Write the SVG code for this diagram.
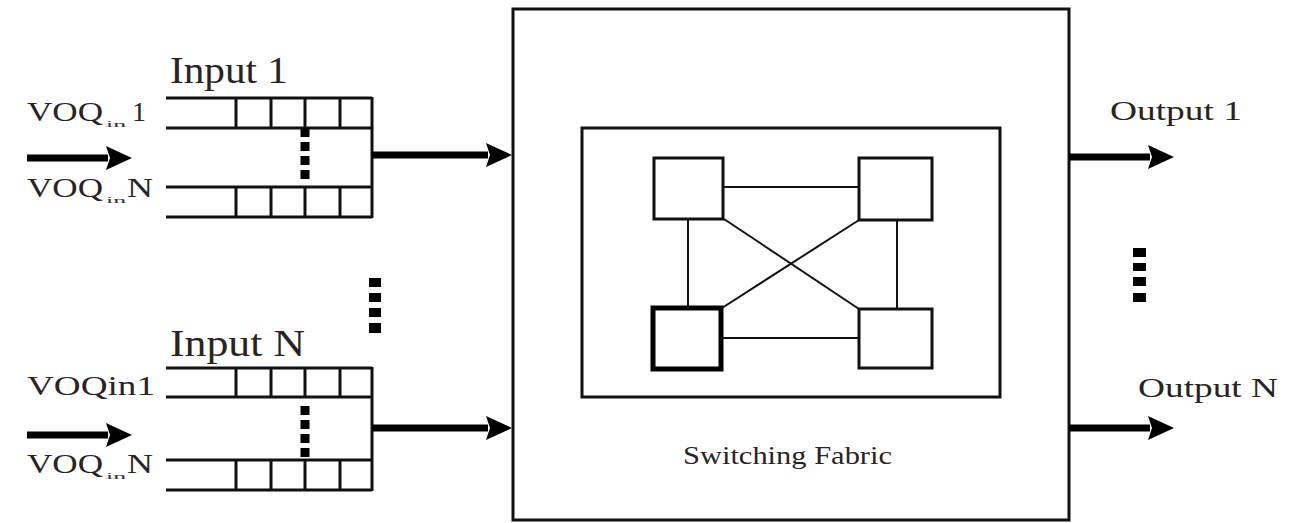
<svg xmlns="http://www.w3.org/2000/svg" width="1292" height="523" viewBox="0 0 1292 523">
<defs>
<style>
.ln{stroke:#111;stroke-width:3;fill:none}
.thin{stroke:#111;stroke-width:2;fill:none}
.shaft{stroke:#000;stroke-width:7;fill:none}
.dot{stroke:#000;stroke-width:9;stroke-dasharray:9 5;fill:none}
.dk{fill:#000}
.t{font-family:"Liberation Serif","Times New Roman",serif;fill:#2a2326}
.sub{font-family:"Liberation Serif","Times New Roman",serif;fill:#333;font-size:8px}
</style>
<marker id="ah" markerUnits="userSpaceOnUse" markerWidth="28" markerHeight="26" refX="2" refY="12" orient="auto">
<path d="M0,0 L26,12 L0,24 L4,12 z" fill="#000"/>
</marker>
</defs>
<rect width="1292" height="523" fill="#fff"/>

<g id="input1">
<text class="t" x="170" y="83" font-size="38" textLength="118" lengthAdjust="spacingAndGlyphs">Input 1</text>
<text class="t" x="27" y="121" font-size="28" textLength="76" lengthAdjust="spacingAndGlyphs">VOQ</text>
<text class="sub" x="106" y="127" textLength="20" lengthAdjust="spacingAndGlyphs">in</text>
<text class="t" x="132" y="121" font-size="28">1</text>
<text class="t" x="27" y="197" font-size="28" textLength="76" lengthAdjust="spacingAndGlyphs">VOQ</text>
<text class="sub" x="106" y="203" textLength="20" lengthAdjust="spacingAndGlyphs">in</text>
<text class="t" x="127" y="197" font-size="28" textLength="26" lengthAdjust="spacingAndGlyphs">N</text>
<path class="ln" d="M166,98 H372 M166,128 H372 M236,98 V128 M271,98 V128 M305,98 V128 M340,98 V128"/>
<path class="ln" d="M166,187 H372 M166,217 H372 M236,187 V217 M271,187 V217 M305,187 V217 M340,187 V217"/>
<path class="ln" d="M372,97 V218"/>
<line class="dot" x1="305" y1="128" x2="305" y2="184"/>
</g>

<g id="inputN">
<text class="t" x="170" y="356" font-size="38" textLength="135" lengthAdjust="spacingAndGlyphs">Input N</text>
<text class="t" x="27" y="395" font-size="28" textLength="128" lengthAdjust="spacingAndGlyphs">VOQin1</text>
<text class="t" x="27" y="473" font-size="28" textLength="76" lengthAdjust="spacingAndGlyphs">VOQ</text>
<text class="sub" x="106" y="479" textLength="20" lengthAdjust="spacingAndGlyphs">in</text>
<text class="t" x="127" y="473" font-size="28" textLength="26" lengthAdjust="spacingAndGlyphs">N</text>
<path class="ln" d="M166,368 H372 M166,397 H372 M236,368 V397 M271,368 V397 M305,368 V397 M340,368 V397"/>
<path class="ln" d="M166,460 H372 M166,490 H372 M236,460 V490 M271,460 V490 M305,460 V490 M340,460 V490"/>
<path class="ln" d="M372,367 V491"/>
<line class="dot" x1="305" y1="406" x2="305" y2="458"/>
</g>

<g id="input-dots">
<rect class="dk" x="369" y="278" width="12" height="9"/>
<rect class="dk" x="369" y="293" width="12" height="9"/>
<rect class="dk" x="369" y="308" width="12" height="9"/>
<rect class="dk" x="369" y="323" width="12" height="10"/>
</g>

<g id="switch">
<rect class="ln" x="513" y="9" width="556" height="511"/>
<rect class="ln" x="582" y="128" width="418" height="269"/>
<text class="t" x="683" y="464" font-size="25" textLength="209" lengthAdjust="spacingAndGlyphs">Switching Fabric</text>
</g>

<g id="sw-tl"><rect class="ln" x="654" y="158" width="69" height="61"/></g>
<g id="sw-tr"><rect class="ln" x="859" y="158" width="73" height="62"/></g>
<g id="sw-bl"><rect x="653" y="308" width="68" height="61" fill="none" stroke="#000" stroke-width="5"/></g>
<g id="sw-br"><rect class="ln" x="859" y="309" width="73" height="59"/></g>

<g id="outputs">
<text class="t" x="1110" y="120" font-size="28" textLength="132" lengthAdjust="spacingAndGlyphs">Output 1</text>
<text class="t" x="1138" y="397" font-size="28" textLength="140" lengthAdjust="spacingAndGlyphs">Output N</text>
<rect class="dk" x="1133" y="248" width="13" height="9"/>
<rect class="dk" x="1133" y="263" width="13" height="8"/>
<rect class="dk" x="1133" y="277" width="13" height="9"/>
<rect class="dk" x="1133" y="293" width="13" height="9"/>
</g>

<g id="connectors">
<line class="thin" x1="723" y1="187" x2="859" y2="187"/>
<line class="thin" x1="721" y1="338" x2="859" y2="338"/>
<line class="thin" x1="688" y1="219" x2="688" y2="308"/>
<line class="thin" x1="897" y1="220" x2="897" y2="309"/>
<line class="thin" x1="724" y1="219" x2="859" y2="309"/>
<line class="thin" x1="859" y1="220" x2="722" y2="308"/>
<line class="shaft" x1="27" y1="158" x2="108" y2="158" stroke-width="6" marker-end="url(#ah)"/>
<line class="shaft" x1="27" y1="435" x2="108" y2="435" stroke-width="6" marker-end="url(#ah)"/>
<line class="shaft" x1="372" y1="155" x2="488" y2="155" marker-end="url(#ah)"/>
<line class="shaft" x1="372" y1="428" x2="488" y2="428" marker-end="url(#ah)"/>
<line class="shaft" x1="1069" y1="157" x2="1150" y2="157" marker-end="url(#ah)"/>
<line class="shaft" x1="1069" y1="428" x2="1150" y2="428" marker-end="url(#ah)"/>
</g>
</svg>
